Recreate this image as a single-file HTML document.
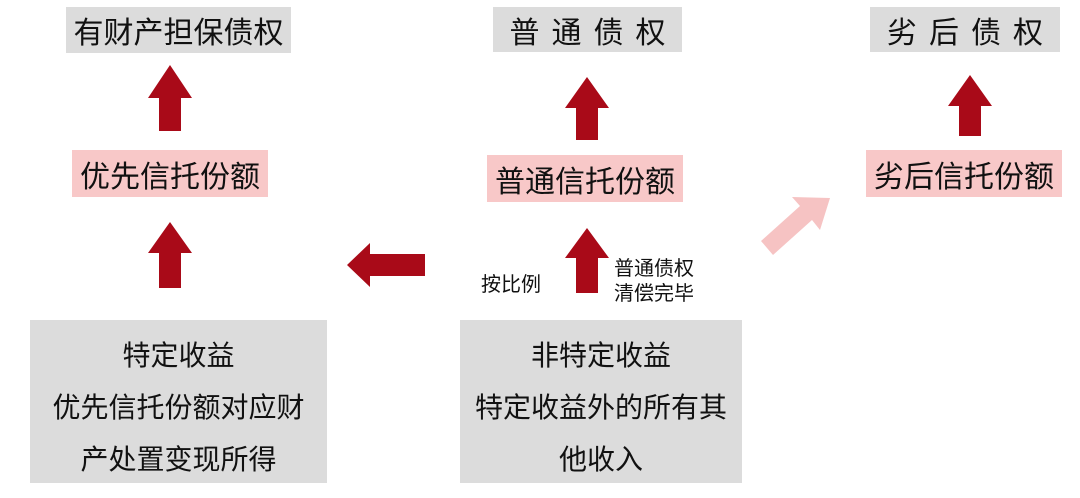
<!DOCTYPE html>
<html><head><meta charset="utf-8"><style>
body{margin:0;width:1080px;height:498px;background:#fff;position:relative;overflow:hidden;font-family:"Liberation Sans","Noto Sans CJK SC",sans-serif;color:#111}
.b{position:absolute;display:flex;align-items:center;justify-content:center;text-align:center}
.g{background:#dcdcdc}.p{background:#f8c8c8}
.t{font-size:30px}
.l{font-size:28px;line-height:52px;flex-direction:column;padding-top:12px;box-sizing:border-box}
.s{position:absolute;font-size:20px;line-height:25px}
svg{position:absolute;left:0;top:0}
</style></head><body>
<div class="b g t" style="left:66px;top:7px;width:225px;height:46px">有财产担保债权</div>
<div class="b g t" style="left:493px;top:7px;width:189px;height:45px;letter-spacing:12px;padding-left:12px;box-sizing:border-box">普通债权</div>
<div class="b g t" style="left:870px;top:7px;width:190px;height:45px;letter-spacing:12px;padding-left:12px;box-sizing:border-box">劣后债权</div>
<div class="b p t" style="left:72px;top:150px;width:196px;height:47px">优先信托份额</div>
<div class="b p t" style="left:487px;top:155px;width:196px;height:47px">普通信托份额</div>
<div class="b p t" style="left:866px;top:150px;width:196px;height:47px">劣后信托份额</div>
<div class="b g l" style="left:30px;top:320px;width:297px;height:163px"><div>特定收益</div><div>优先信托份额对应财</div><div>产处置变现所得</div></div>
<div class="b g l" style="left:460px;top:320px;width:282px;height:163px"><div>非特定收益</div><div>特定收益外的所有其</div><div>他收入</div></div>
<div class="s" style="left:481px;top:273px">按比例</div>
<div class="s" style="left:614px;top:257px">普通债权<br>清偿完毕</div>
<svg width="1080" height="498">
<g fill="#a90a18">
<polygon points="170,65 192,98 181,98 181,131 159,131 159,98 148,98"/>
<polygon points="170,222 192,253 181,253 181,288 159,288 159,253 148,253"/>
<polygon points="587,77 609,108 598,108 598,140 576,140 576,108 565,108"/>
<polygon points="587,228 609,258 598,258 598,293 576,293 576,258 565,258"/>
<polygon points="970,75 992,106 981,106 981,136 959,136 959,106 948,106"/>
<polygon points="347,265 370,243 370,254 425,254 425,276 370,276 370,287"/>
</g>
<polygon fill="#f6c3c3" points="830,198 820,230 812,220 773,255 761,241 800,206 792,197"/>
</svg>
</body></html>
